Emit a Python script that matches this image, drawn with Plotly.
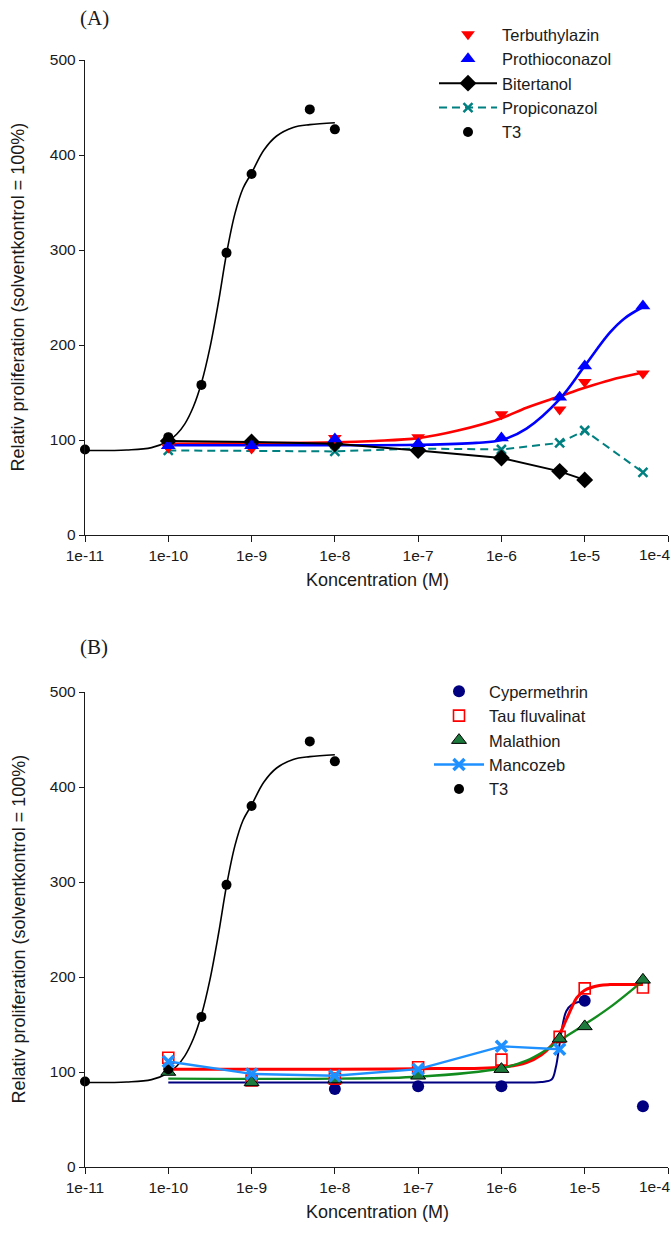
import plotly.graph_objects as go

# ---------------- shared axis settings ----------------
conc_ticks = [1e-11, 1e-10, 1e-9, 1e-8, 1e-7, 1e-6, 1e-5, 1e-4]
conc_tick_text = ["1e-11", "1e-10", "1e-9", "1e-8", "1e-7", "1e-6", "1e-5", "1e-4"]
prolif_ticks = [0, 100, 200, 300, 400, 500]

# ---------------- T3 reference (both panels) ----------------
t3_conc = [1e-11, 1e-10, 2.5e-10, 5e-10, 1e-9, 5e-9, 1e-8]
t3_val = [90, 103, 158, 297, 380, 448, 427]
t3_fit_conc = [1e-11, 3.16e-11, 6.3e-11, 1e-10, 1.26e-10, 1.58e-10, 2e-10, 2.5e-10,
               3.16e-10, 4e-10, 5e-10, 6.3e-10, 7.9e-10, 1e-9, 1.4e-9, 2e-9,
               3.16e-9, 5e-9, 1e-8]
t3_fit_val = [89, 89.5, 92, 99, 106, 117, 135, 160,
              197, 245, 296, 338, 365, 381, 405, 420,
              429, 432, 434]

# ---------------- Panel A ----------------
terb_conc = [1e-10, 1e-9, 1e-8, 1e-7, 1e-6, 5e-6, 1e-5, 5e-5]
terb_val = [92, 91, 102, 103, 127, 132, 161, 170]
terb_fit_conc = [1e-10, 1e-9, 1e-8, 3e-8, 1e-7, 3e-7, 1e-6, 2e-6, 5e-6, 1e-5, 2e-5, 5e-5]
terb_fit_val = [96, 96.5, 97.5, 99, 102, 110, 123, 134, 146, 155, 163, 171]

proth_conc = [1e-10, 1e-9, 1e-8, 1e-7, 1e-6, 5e-6, 1e-5, 5e-5]
proth_val = [94, 94, 101, 96, 102, 145, 178, 241]
proth_fit_conc = [1e-10, 1e-8, 1e-7, 5e-7, 1e-6, 2e-6, 5e-6, 1e-5, 2e-5, 3e-5, 5e-5]
proth_fit_val = [94.5, 94.5, 95, 97, 100, 112, 143, 178, 213, 228, 240]

biter_conc = [1e-10, 1e-9, 1e-8, 1e-7, 1e-6, 5e-6, 1e-5]
biter_val = [99, 98, 96, 89, 81, 67, 58]

propi_conc = [1e-10, 1e-8, 1e-7, 1e-6, 5e-6, 1e-5, 5e-5]
propi_val = [89, 88, 91, 90, 97, 110, 66]

# ---------------- Panel B ----------------
cyper_conc = [1e-8, 1e-7, 1e-6, 1e-5, 5e-5]
cyper_val = [82, 85, 85, 175, 64]
cyper_fit_conc = [1e-10, 1e-8, 1e-6, 3e-6, 4e-6, 4.5e-6, 5e-6, 5.5e-6, 6e-6, 7e-6, 1e-5]
cyper_fit_val = [89, 89, 89, 89.5, 92, 105, 130, 152, 164, 171, 175]

tau_conc = [1e-10, 1e-9, 1e-8, 1e-7, 1e-6, 5e-6, 1e-5, 5e-5]
tau_val = [115, 91, 93, 105, 113, 137, 188, 189]
tau_fit_conc = [1e-10, 1e-8, 1e-7, 1e-6, 2e-6, 3e-6, 4e-6, 5e-6, 6e-6, 7e-6, 8e-6,
                1e-5, 1.5e-5, 2e-5, 5e-5]
tau_fit_val = [103, 103, 103.5, 105, 110, 118, 128, 140, 155, 168, 178,
               186, 191, 192, 192]

mala_conc = [1e-10, 1e-9, 1e-8, 1e-7, 1e-6, 5e-6, 1e-5, 5e-5]
mala_val = [100, 89, 92, 96, 103, 135, 148, 197]
mala_fit_conc = [1e-10, 1e-8, 1e-7, 1e-6, 2e-6, 3e-6, 5e-6, 1e-5, 2e-5, 5e-5]
mala_fit_val = [93, 93, 95, 104, 112, 120, 133, 150, 168, 196]

manco_conc = [1e-10, 1e-9, 1e-8, 1e-7, 1e-6, 5e-6]
manco_val = [111, 98, 96, 103, 127, 124]

FONT = "Arial, Liberation Sans, sans-serif"
INK = "#1a1a1a"

fig = go.Figure()


def curve(x, y, color, width, xa, ya, dash="solid"):
    fig.add_trace(go.Scatter(x=x, y=y, mode="lines", line=dict(color=color, width=width, dash=dash,
                                                                  shape="spline"),
                             showlegend=False, hoverinfo="skip", xaxis=xa, yaxis=ya))


def points(name, x, y, xa, ya, legend, rank, marker, mode="markers", line=None):
    fig.add_trace(go.Scatter(x=x, y=y, mode=mode, name=name, marker=marker,
                             line=line if line else dict(width=0), cliponaxis=False,
                             legend=legend, legendrank=rank, xaxis=xa, yaxis=ya))


# Panel A curves
curve(t3_fit_conc, t3_fit_val, "black", 1.6, "x", "y")
curve(terb_fit_conc, terb_fit_val, "#ff0000", 2.6, "x", "y")
curve(proth_fit_conc, proth_fit_val, "#0000ff", 2.6, "x", "y")

# Panel A points
points("Propiconazol", propi_conc, propi_val, "x", "y", "legend", 4,
       dict(symbol="x-thin", size=9, color="#008080", line=dict(color="#008080", width=2.5)),
       mode="lines+markers", line=dict(color="#008080", width=2, dash="8px,5px"))
points("Bitertanol", biter_conc, biter_val, "x", "y", "legend", 3,
       dict(symbol="diamond", size=13, color="black"),
       mode="lines+markers", line=dict(color="black", width=2))
points("Terbuthylazin", terb_conc, terb_val, "x", "y", "legend", 1,
       dict(symbol="triangle-down", size=12, color="#ff0000"))
points("Prothioconazol", proth_conc, proth_val, "x", "y", "legend", 2,
       dict(symbol="triangle-up", size=13, color="#0000ff"))
points("T3", t3_conc, t3_val, "x", "y", "legend", 5,
       dict(symbol="circle", size=10, color="black"))

# Panel B curves
curve(t3_fit_conc, t3_fit_val, "black", 1.6, "x2", "y2")
curve(cyper_fit_conc, cyper_fit_val, "#000080", 2, "x2", "y2")
curve(tau_fit_conc, tau_fit_val, "#ff0000", 3, "x2", "y2")
curve(mala_fit_conc, mala_fit_val, "#128c1e", 2.4, "x2", "y2")

# Panel B points
points("Cypermethrin", cyper_conc, cyper_val, "x2", "y2", "legend2", 1,
       dict(symbol="circle", size=12, color="#000080"))
points("Tau fluvalinat", tau_conc, tau_val, "x2", "y2", "legend2", 2,
       dict(symbol="square-open", size=11, color="#ff0000", line=dict(color="#ff0000", width=1.6)))
points("Malathion", mala_conc, mala_val, "x2", "y2", "legend2", 3,
       dict(symbol="triangle-up", size=13, color="#1c7a3c", line=dict(color="black", width=1)))
points("T3", t3_conc, t3_val, "x2", "y2", "legend2", 5,
       dict(symbol="circle", size=10, color="black"))
points("Mancozeb", manco_conc, manco_val, "x2", "y2", "legend2", 4,
       dict(symbol="x-thin", size=11, color="#1e90ff", line=dict(color="#1e90ff", width=3.5)),
       mode="lines+markers", line=dict(color="#1e90ff", width=2.4))

W, H = 671, 1245
x0, x1 = 85 / W, 668 / W
domA = [1 - 535 / H, 1 - 60 / H]
domB = [1 - 1167 / H, 1 - 692 / H]

# the last decade label sits at the page edge, so it is placed separately (right-aligned)
axis_tick_text = conc_tick_text[:-1] + [""]

TICKFONT = dict(family=FONT, size=15.5, color=INK)
xaxis_common = dict(type="log", range=[-11, -4], tickvals=conc_ticks, ticktext=axis_tick_text,
                    showline=True, linecolor=INK, linewidth=1.4, ticks="outside",
                    ticklen=6, tickwidth=1.2, tickcolor=INK, showgrid=False, zeroline=False,
                    automargin=False, tickfont=TICKFONT, domain=[x0, x1])
yaxis_common = dict(range=[0, 500], tickvals=prolif_ticks, showline=True, linecolor=INK,
                    linewidth=1.4, ticks="outside", ticklen=5, tickwidth=1.2, tickcolor=INK,
                    showgrid=False, zeroline=False, automargin=False, tickfont=TICKFONT)

legend_font = dict(family=FONT, size=16.5, color=INK)

ytitle = "Relativ proliferation (solventkontrol = 100%)"
annotations = []
for yc, lab, ylab, xlab_y, tick_y in [((60 + 535) / 2, "(A)", 18, 580, 554),
                                      ((692 + 1167) / 2, "(B)", 647, 1212, 1186)]:
    annotations.append(dict(text=ytitle, x=18 / W, y=1 - yc / H, xref="paper", yref="paper",
                            textangle=-90, showarrow=False, xanchor="center", yanchor="middle",
                            font=dict(family=FONT, size=18, color=INK)))
    annotations.append(dict(text="Koncentration (M)", x=377 / W, y=1 - xlab_y / H, xref="paper",
                            yref="paper", showarrow=False, xanchor="center", yanchor="middle",
                            font=dict(family=FONT, size=18, color=INK)))
    annotations.append(dict(text=lab, x=78 / W, y=1 - ylab / H, xref="paper", yref="paper",
                            showarrow=False, xanchor="left", yanchor="middle",
                            font=dict(family="Liberation Serif, Times New Roman, serif", size=21,
                                      color=INK)))
    annotations.append(dict(text=conc_tick_text[-1], x=1.0, y=1 - tick_y / H, xref="paper",
                            yref="paper", showarrow=False, xanchor="right", yanchor="middle",
                            xshift=1, font=TICKFONT))

fig.update_layout(
    template="none",
    width=W, height=H, margin=dict(l=0, r=0, t=0, b=0, autoexpand=False),
    plot_bgcolor="white", paper_bgcolor="white",
    xaxis=dict(**xaxis_common, anchor="y"),
    yaxis=dict(**yaxis_common, domain=domA, anchor="x"),
    xaxis2=dict(**xaxis_common, anchor="y2"),
    yaxis2=dict(**yaxis_common, domain=domB, anchor="x2"),
    legend=dict(font=legend_font, bgcolor="rgba(0,0,0,0)", xanchor="left", yanchor="top",
                itemwidth=58, tracegroupgap=0, x=434 / W, y=1 - 17 / H),
    legend2=dict(font=legend_font, bgcolor="rgba(0,0,0,0)", xanchor="left", yanchor="top",
                 itemwidth=50, tracegroupgap=0, x=429 / W, y=1 - 674 / H),
    annotations=annotations,
    showlegend=True,
)

fig.write_html("out.html")
